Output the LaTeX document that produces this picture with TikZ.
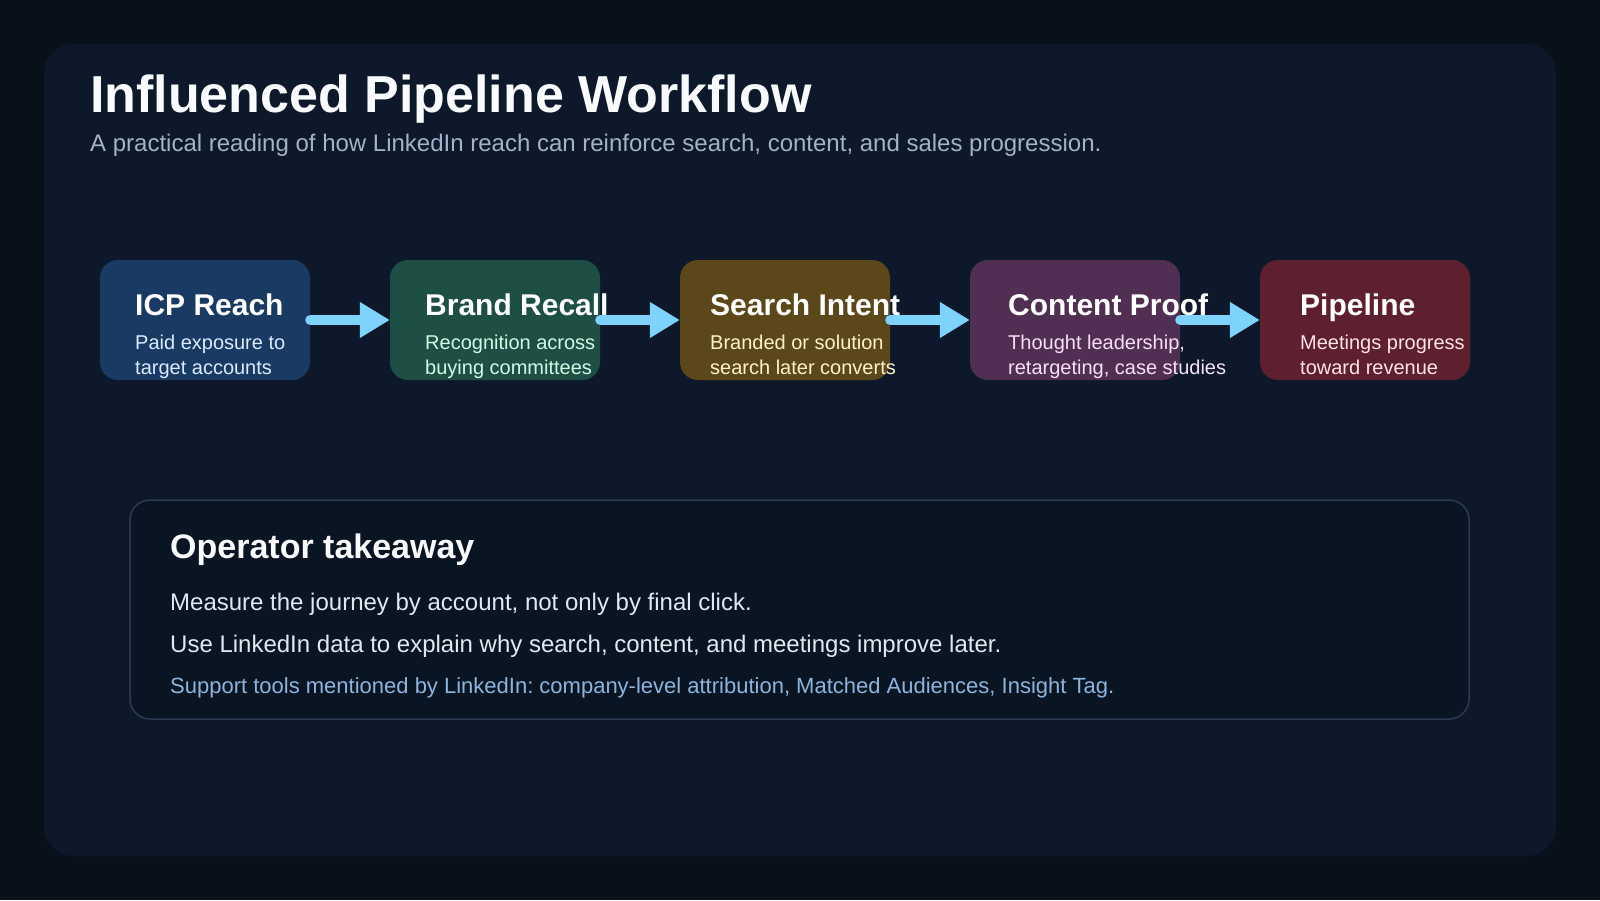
\documentclass[tikz,border=0pt]{standalone}
\usepackage{fontspec}
\setmainfont{Liberation Sans}
\usetikzlibrary{positioning, arrows.meta}
\frenchspacing

\definecolor{pagebg}{HTML}{08101A}
\definecolor{panelbg}{HTML}{0D192A}
\definecolor{notebg}{HTML}{0A1524}
\definecolor{noteline}{HTML}{2A3B52}
\definecolor{titlefg}{HTML}{F8FAFC}
\definecolor{subfg}{HTML}{A3B2C6}
\definecolor{bodyfg}{HTML}{E2E8F0}
\definecolor{toolfg}{HTML}{8DB4DD}
\definecolor{flowfg}{HTML}{7DD3FC}
\definecolor{reachbg}{HTML}{193A63}
\definecolor{reachfg}{HTML}{DBEAFE}
\definecolor{recallbg}{HTML}{1E4F45}
\definecolor{recallfg}{HTML}{D1FAE5}
\definecolor{intentbg}{HTML}{5B4719}
\definecolor{intentfg}{HTML}{FEF3C7}
\definecolor{proofbg}{HTML}{512F52}
\definecolor{prooffg}{HTML}{F5E1F7}
\definecolor{pipebg}{HTML}{5E1F2E}
\definecolor{pipefg}{HTML}{FFE4E6}

\begin{document}
\begin{tikzpicture}[x=1pt, y=-1pt,
  stage/.style={rounded corners=18pt, minimum width=210pt, minimum height=120pt,
                inner sep=0pt},
  stagetitle/.style={anchor=base west, inner sep=0pt, text=white,
                     font=\fontsize{30}{36}\selectfont\bfseries},
  stagenote/.style={anchor=base west, inner sep=0pt, align=left,
                    font=\fontsize{20}{25}\selectfont},
  bodyline/.style={anchor=base west, inner sep=0pt, text=bodyfg,
                   font=\fontsize{24}{28}\selectfont},
  flow/.style={-{Triangle[length=30pt, width=34pt]}, line width=10pt,
               line cap=round, flowfg}]
  \useasboundingbox (0,0) rectangle (1600,900);
  \fill[pagebg] (0,0) rectangle (1600,900);
  \fill[panelbg, rounded corners=30pt] (44,44) rectangle (1556,856);

  % heading
  \node[anchor=base west, inner sep=0pt, text=titlefg,
        font=\fontsize{52}{60}\selectfont\bfseries] (title) at (90,112)
    {Influenced Pipeline Workflow};
  \node[anchor=base west, inner sep=0pt, text=subfg,
        font=\fontsize{24}{28}\selectfont] (subtitle) at (90,151)
    {A practical reading of how LinkedIn reach can reinforce search, content, and sales progression.};

  % stages
  \node[stage, fill=reachbg]  (reach)  at (205,320) {};
  \node[stage, fill=recallbg] (recall) at (495,320) {};
  \node[stage, fill=intentbg] (intent) at (785,320) {};
  \node[stage, fill=proofbg]  (proof)  at (1075,320) {};
  \node[stage, fill=pipebg]   (pipe)   at (1365,320) {};

  % note nodes sit on the baseline of their last line
  \node[stagetitle] (reachT) at (135,315) {ICP Reach};
  \node[stagenote, text=reachfg] (reachN) at (135,374)
    {Paid exposure to\\target accounts};
  \node[stagetitle] (recallT) at (425,315) {Brand Recall};
  \node[stagenote, text=recallfg] (recallN) at (425,374)
    {Recognition across\\buying committees};
  \node[stagetitle] (intentT) at (710,315) {Search Intent};
  \node[stagenote, text=intentfg] (intentN) at (710,374)
    {Branded or solution\\search later converts};
  \node[stagetitle] (proofT) at (1008,315) {Content Proof};
  \node[stagenote, text=prooffg] (proofN) at (1008,374)
    {Thought leadership,\\retargeting, case studies};
  \node[stagetitle] (pipeT) at (1300,315) {Pipeline};
  \node[stagenote, text=pipefg] (pipeN) at (1300,374)
    {Meetings progress\\toward revenue};

  \draw[flow] (reach) -- (recall);
  \draw[flow] (recall) -- (intent);
  \draw[flow] (intent) -- (proof);
  \draw[flow] (proof) -- (pipe);

  % takeaway
  \node[draw=noteline, line width=1.5pt, fill=notebg, rounded corners=20pt,
        minimum width=1339pt, minimum height=219pt, inner sep=0pt]
    (take) at (799.5,609.5) {};
  \node[anchor=base west, inner sep=0pt, text=titlefg,
        font=\fontsize{34}{40}\selectfont\bfseries] (takeT) at (170,558)
    {Operator takeaway};
  \node[bodyline] (takeA) at (170,610)
    {Measure the journey by account, not only by final click.};
  \node[bodyline] (takeB) at (170,652)
    {Use LinkedIn data to explain why search, content, and meetings improve later.};
  \node[bodyline, text=toolfg, font=\fontsize{22}{26}\selectfont] (takeC) at (170,693)
    {Support tools mentioned by LinkedIn: company-level attribution, Matched Audiences, Insight Tag.};
\end{tikzpicture}
\end{document}
